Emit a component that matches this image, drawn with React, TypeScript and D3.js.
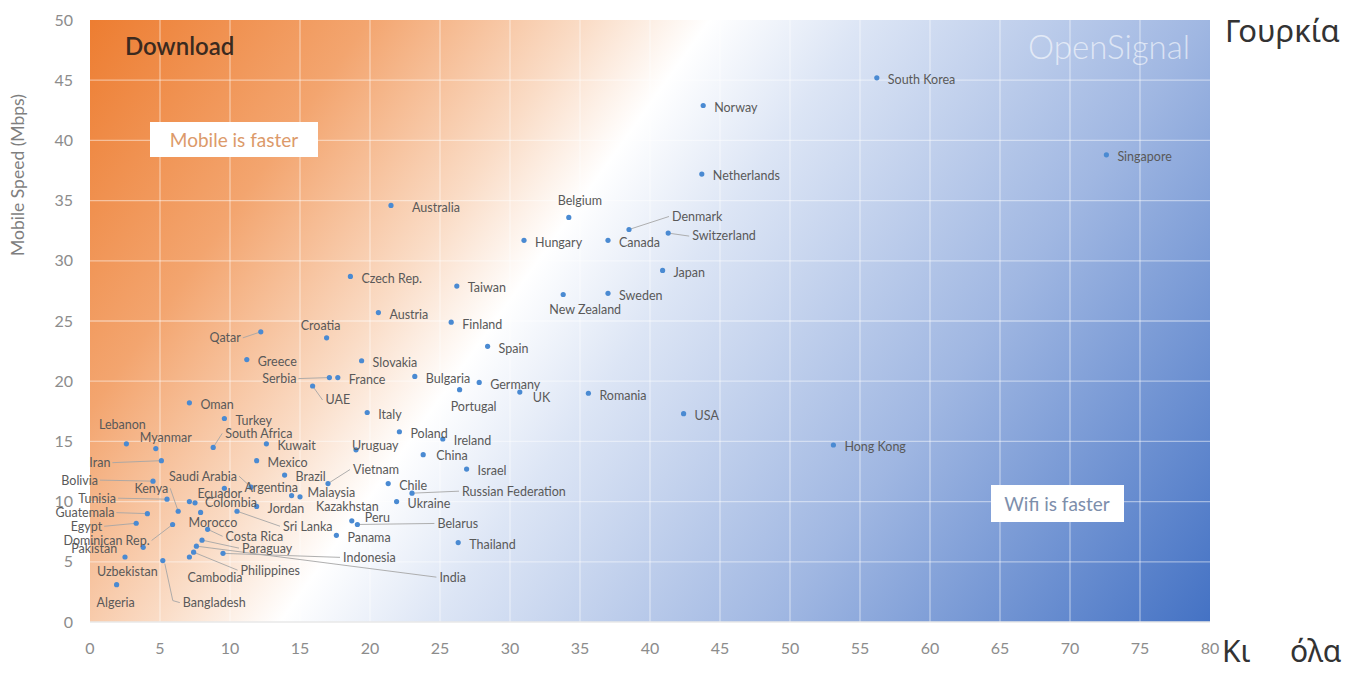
import React from "react";
import * as d3 from "d3";

// wifi (x) vs mobile (y) download speed, Mbps
const countries = [
  "South Korea", "Norway", "Singapore", "Netherlands", "Australia", "Belgium",
  "Denmark", "Switzerland", "Hungary", "Canada", "Japan", "Czech Rep.",
  "Taiwan", "Sweden", "New Zealand", "Austria", "Finland", "Qatar",
  "Croatia", "Spain", "Greece", "Slovakia", "Serbia", "France", "UAE",
  "Bulgaria", "Germany", "Portugal", "UK", "Romania", "USA", "Hong Kong",
  "Oman", "Turkey", "Italy", "Poland", "Ireland", "Lebanon", "Myanmar",
  "South Africa", "Kuwait", "Uruguay", "China", "Iran", "Mexico", "Israel",
  "Brazil", "Vietnam", "Chile", "Russian Federation", "Ukraine", "Bolivia",
  "Saudi Arabia", "Argentina", "Ecuador", "Colombia", "Kenya", "Tunisia",
  "Guatemala", "Egypt", "Dominican Rep.", "Pakistan", "Uzbekistan",
  "Bangladesh", "Algeria", "Morocco", "Costa Rica", "Paraguay", "India",
  "Philippines", "Cambodia", "Indonesia", "Sri Lanka", "Jordan", "Malaysia",
  "Kazakhstan", "Panama", "Peru", "Belarus", "Thailand",
];

const wifiSpeed = [
  56.2, 43.8, 72.6, 43.7, 21.5, 34.2,
  38.5, 41.3, 31.0, 37.0, 40.9, 18.6,
  26.2, 37.0, 33.8, 20.6, 25.8, 12.2,
  16.9, 28.4, 11.2, 19.4, 17.1, 17.7, 15.9,
  23.2, 27.8, 26.4, 30.7, 35.6, 42.4, 53.1,
  7.1, 9.6, 19.8, 22.1, 25.2, 2.6, 4.7,
  8.8, 12.6, 19.0, 23.8, 5.1, 11.9, 26.9,
  13.9, 17.0, 21.3, 23.0, 21.9, 4.5,
  11.5, 9.6, 7.1, 7.5, 6.3, 5.5,
  4.1, 3.3, 5.9, 3.8, 2.5,
  5.2, 1.9, 7.9, 8.4, 8.0, 7.6,
  7.4, 7.1, 9.5, 10.5, 11.9, 14.4,
  15.0, 17.6, 18.7, 19.1, 26.3,
];

const mobileSpeed = [
  45.2, 42.9, 38.8, 37.2, 34.6, 33.6,
  32.6, 32.3, 31.7, 31.7, 29.2, 28.7,
  27.9, 27.3, 27.2, 25.7, 24.9, 24.1,
  23.6, 22.9, 21.8, 21.7, 20.3, 20.3, 19.6,
  20.4, 19.9, 19.3, 19.1, 19.0, 17.3, 14.7,
  18.2, 16.9, 17.4, 15.8, 15.2, 14.8, 14.4,
  14.5, 14.8, 14.3, 13.9, 13.4, 13.4, 12.7,
  12.2, 11.5, 11.5, 10.7, 10.0, 11.7,
  11.2, 11.1, 10.0, 9.9, 9.2, 10.2,
  9.0, 8.2, 8.1, 6.2, 5.4,
  5.1, 3.1, 9.1, 7.7, 6.8, 6.3,
  5.8, 5.4, 5.7, 9.2, 9.6, 10.5,
  10.4, 7.2, 8.4, 8.1, 6.6,
];

const xTicks = d3.range(0, 81, 5);
const yTicks = d3.range(0, 51, 5);

// where each label sits relative to its dot (default: to the right)
type Place = { dx: number; dy: number; anchor?: "start" | "middle" | "end"; leader?: boolean; elbow?: boolean };
const place: Record<string, Place> = {
  "Australia": { dx: 21, dy: 2 },
  "Belgium": { dx: 11, dy: -17, anchor: "middle" },
  "Denmark": { dx: 43, dy: -13, leader: true },
  "Switzerland": { dx: 24, dy: 3, leader: true },
  "New Zealand": { dx: 22, dy: 15, anchor: "middle" },
  "Qatar": { dx: -20, dy: 6, anchor: "end", leader: true },
  "Croatia": { dx: -6, dy: -12, anchor: "middle" },
  "Serbia": { dx: -33, dy: 1, anchor: "end", leader: true },
  "UAE": { dx: 13, dy: 14, leader: true },
  "Portugal": { dx: 14, dy: 17, anchor: "middle" },
  "UK": { dx: 13, dy: 6 },
  "Lebanon": { dx: -4, dy: -19, anchor: "middle" },
  "Myanmar": { dx: -16, dy: -11 },
  "South Africa": { dx: 12, dy: -14, leader: true },
  "Uruguay": { dx: -4, dy: -4 },
  "China": { dx: 13, dy: 1 },
  "Iran": { dx: -51, dy: 2, anchor: "end", leader: true },
  "Vietnam": { dx: 25, dy: -14, leader: true },
  "Russian Federation": { dx: 50, dy: -2, leader: true },
  "Bolivia": { dx: -55, dy: -1, anchor: "end", leader: true },
  "Saudi Arabia": { dx: -14, dy: -11, anchor: "end", leader: true },
  "Argentina": { dx: 20, dy: -1 },
  "Ecuador": { dx: 8, dy: -8 },
  "Colombia": { dx: 10, dy: 0 },
  "Kenya": { dx: -10, dy: -23, anchor: "end", leader: true },
  "Tunisia": { dx: -51, dy: -1, anchor: "end", leader: true },
  "Guatemala": { dx: -33, dy: -1, anchor: "end", leader: true },
  "Egypt": { dx: -34, dy: 3, anchor: "end", leader: true },
  "Dominican Rep.": { dx: -23, dy: 16, anchor: "end", leader: true },
  "Pakistan": { dx: -26, dy: 1, anchor: "end" },
  "Uzbekistan": { dx: -28, dy: 15 },
  "Bangladesh": { dx: 20, dy: 42, leader: true, elbow: true },
  "Algeria": { dx: -20, dy: 18 },
  "Morocco": { dx: -12, dy: 10 },
  "Costa Rica": { dx: 18, dy: 7, leader: true },
  "Paraguay": { dx: 40, dy: 8, leader: true },
  "India": { dx: 243, dy: 31, leader: true },
  "Philippines": { dx: 47, dy: 18, leader: true },
  "Cambodia": { dx: -2, dy: 21 },
  "Indonesia": { dx: 120, dy: 4, leader: true },
  "Sri Lanka": { dx: 46, dy: 15, leader: true },
  "Malaysia": { dx: 16, dy: -3 },
  "Kazakhstan": { dx: 16, dy: 10 },
  "Peru": { dx: 13, dy: -3 },
  "Belarus": { dx: 80, dy: -1, leader: true },
};

const W = 1368;
const H = 673;
const left = 90, right = 1210, top = 20, bottom = 622;
const labelFont = "Lato, 'Open Sans', sans-serif";
const greekFont = "'Noto Sans', 'DejaVu Sans', sans-serif";

export default function App() {
  const x = d3.scaleLinear().domain([0, 80]).range([left, right]);
  const y = d3.scaleLinear().domain([0, 50]).range([bottom, top]);

  const points = countries.map((c, i) => ({ c, px: x(wifiSpeed[i]), py: y(mobileSpeed[i]) }));

  // gradient axis: orange top-left, white band, Office blue bottom-right
  const gx2 = 1117, gy2 = 753;

  return (
    <svg width={W} height={H} style={{ position: "absolute", left: 0, top: 0, background: "#fff" }}>
      <defs>
        <linearGradient id="bg" gradientUnits="userSpaceOnUse" x1={left} y1={top} x2={gx2} y2={gy2}>
          <stop offset="0" stopColor="#ed7d31" />
          <stop offset="0.18" stopColor="#f3a56f" />
          <stop offset="0.32" stopColor="#fadcc6" />
          <stop offset="0.4" stopColor="#ffffff" />
          <stop offset="0.5" stopColor="#dce5f5" />
          <stop offset="0.72" stopColor="#a0b7e2" />
          <stop offset="1" stopColor="#4472c4" />
        </linearGradient>
      </defs>
      <rect x={left} y={top} width={right - left} height={bottom - top} fill="url(#bg)" />

      {/* grid */}
      <g stroke="#ffffff" strokeOpacity={0.45} strokeWidth={1.3}>
        {xTicks.slice(1, -1).map((t) => (
          <line key={"gx" + t} x1={x(t)} x2={x(t)} y1={top} y2={bottom} />
        ))}
        {yTicks.slice(1, -1).map((t) => (
          <line key={"gy" + t} x1={left} x2={right} y1={y(t)} y2={y(t)} />
        ))}
      </g>
      <line x1={left} x2={right} y1={bottom} y2={bottom} stroke="#e8e8e8" strokeWidth={1.5} />

      {/* tick labels */}
      <g fontFamily={labelFont} fontSize={16} fill="#8c8c8c">
        {yTicks.map((t) => (
          <text key={"yt" + t} x={73} y={y(t)} dy="0.35em" textAnchor="end">{t}</text>
        ))}
        {xTicks.map((t) => (
          <text key={"xt" + t} x={x(t)} y={648} dy="0.35em" textAnchor="middle">{t}</text>
        ))}
      </g>
      <text transform="translate(24,175) rotate(-90)" textAnchor="middle" fontFamily={labelFont}
        fontSize={17.5} fill="#7f7f7f">Mobile Speed (Mbps)</text>

      {/* annotations */}
      <text x={125} y={55} fontFamily={labelFont} fontSize={24} fontWeight={600} fill="#3b2a1f">Download</text>
      <text x={1190} y={59} textAnchor="end" fontFamily={labelFont} fontSize={33} fontWeight={300}
        fill="#ffffff" fillOpacity={0.6}>OpenSignal</text>
      <rect x={150} y={122} width={168} height={35} fill="#fff" />
      <text x={234} y={140} dy="0.35em" textAnchor="middle" fontFamily={labelFont} fontSize={19} fill="#dc9a6a">Mobile is faster</text>
      <rect x={991} y={485} width={133} height={37} fill="#fff" />
      <text x={1057} y={504} dy="0.35em" textAnchor="middle" fontFamily={labelFont} fontSize={19} fill="#7d8eab">Wifi is faster</text>

      {/* leader lines */}
      <g stroke="#a6a6a6" strokeWidth={0.9} fill="none">
        {points.map(({ c, px, py }) => {
          const p = place[c];
          if (!p || !p.leader) return null;
          const lx = px + p.dx + (p.anchor === "end" ? 2 : p.anchor === "middle" ? 0 : -3);
          const ly = py + p.dy;
          if (p.elbow) {
            return <polyline key={"l" + c} points={`${px + 2},${py + 3} ${px + 10},${ly - 2} ${lx},${ly}`} />;
          }
          return <line key={"l" + c} x1={px} y1={py} x2={lx} y2={ly} />;
        })}
      </g>

      {/* dots */}
      <g fill="#4a8ad2">
        {points.map(({ c, px, py }) => (
          <circle key={"d" + c} cx={px} cy={py} r={2.6} />
        ))}
      </g>

      {/* labels */}
      <g fontFamily={labelFont} fontSize={12.5} fill="#595959">
        {points.map(({ c, px, py }) => {
          const p = place[c] || { dx: 11, dy: 2 };
          return (
            <text key={"t" + c} x={px + p.dx} y={py + p.dy} dy="0.35em" textAnchor={p.anchor || "start"}>{c}</text>
          );
        })}
      </g>

      {/* surrounding page text */}
      <text x={1225} y={42} fontFamily={greekFont} fontSize={31} fill="#333">Γουρκία</text>
      <text x={1222} y={662} fontFamily={greekFont} fontSize={30} fill="#333">Κι</text>
      <text x={1290} y={662} fontFamily={greekFont} fontSize={30} fill="#333">όλα</text>
    </svg>
  );
}
